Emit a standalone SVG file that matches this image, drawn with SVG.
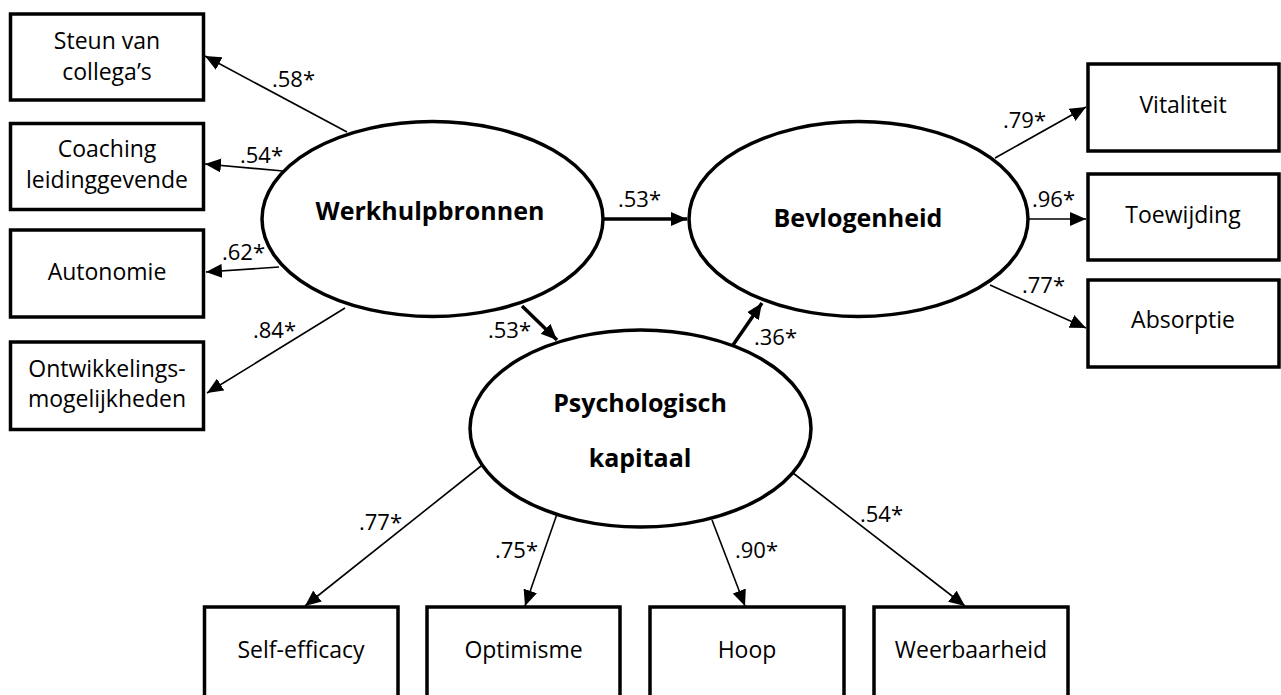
<svg xmlns="http://www.w3.org/2000/svg" width="1281" height="695" viewBox="0 0 1281 695">
<defs>
<style>
.box{fill:#fff;stroke:#000;stroke-width:3.5}
.ell{fill:#fff;stroke:#000;stroke-width:3.5}
.t{font-family:"Open Sans","Noto Sans","DejaVu Sans",sans-serif;font-size:23px;fill:#000;text-anchor:middle}
.b{font-family:"Open Sans","Noto Sans","DejaVu Sans",sans-serif;font-size:25px;font-weight:bold;fill:#000;text-anchor:middle}
.l{font-family:"Open Sans","Noto Sans","DejaVu Sans",sans-serif;font-size:22px;fill:#000}
.thin{stroke:#000;stroke-width:1.6;fill:none;marker-end:url(#ah)}
.thick{stroke:#000;stroke-width:3.5;fill:none;marker-end:url(#ahb)}
</style>
<marker id="ah" markerUnits="userSpaceOnUse" markerWidth="18" markerHeight="14" refX="16" refY="7" orient="auto"><path d="M0,0 L16,7 L0,14 Z" fill="#000"/></marker>
<marker id="ahb" markerUnits="userSpaceOnUse" markerWidth="18" markerHeight="16" refX="16" refY="8" orient="auto"><path d="M0,1 L16,8 L0,15 Z" fill="#000"/></marker>
</defs>
<rect width="1281" height="695" fill="#fff"/>

<g id="connectors">
<line class="thin" x1="347" y1="132" x2="205" y2="56"/>
<line class="thin" x1="283" y1="171" x2="205" y2="164"/>
<line class="thin" x1="279" y1="267" x2="206" y2="272"/>
<line class="thin" x1="345" y1="308" x2="207" y2="393"/>
<line class="thick" x1="603" y1="219" x2="687" y2="219"/>
<line class="thick" x1="522" y1="306" x2="557" y2="340"/>
<line class="thick" x1="733" y1="345" x2="762" y2="303"/>
<line class="thin" x1="995" y1="158" x2="1086" y2="107"/>
<line class="thin" x1="1028" y1="219" x2="1086" y2="219"/>
<line class="thin" x1="990" y1="285" x2="1086" y2="328"/>
<line class="thin" x1="481" y1="466" x2="305" y2="606"/>
<line class="thin" x1="557" y1="514" x2="525" y2="606"/>
<line class="thin" x1="712" y1="520" x2="745" y2="606"/>
<line class="thin" x1="793" y1="473" x2="965" y2="606"/>
<text class="l" x="272" y="87">.58*</text>
<text class="l" x="240" y="163">.54*</text>
<text class="l" x="222" y="260">.62*</text>
<text class="l" x="253" y="338">.84*</text>
<text class="l" x="618" y="207">.53*</text>
<text class="l" x="488" y="338">.53*</text>
<text class="l" x="754" y="345">.36*</text>
<text class="l" x="1003" y="128">.79*</text>
<text class="l" x="1032" y="207">.96*</text>
<text class="l" x="1022" y="293">.77*</text>
<text class="l" x="359" y="530">.77*</text>
<text class="l" x="495" y="558">.75*</text>
<text class="l" x="735" y="558">.90*</text>
<text class="l" x="860" y="522">.54*</text>
</g>

<g id="werkhulpbronnen">
<ellipse class="ell" cx="432.5" cy="219" rx="170.5" ry="97.5"/>
<text class="b" x="430" y="220">Werkhulpbronnen</text>
</g>
<g id="bevlogenheid">
<ellipse class="ell" cx="858.5" cy="219" rx="169.5" ry="97.5"/>
<text class="b" x="858" y="227">Bevlogenheid</text>
</g>
<g id="psychologisch-kapitaal">
<ellipse class="ell" cx="640.5" cy="428.5" rx="170.5" ry="98.5"/>
<text class="b" x="640" y="412">Psychologisch</text>
<text class="b" x="640" y="467">kapitaal</text>
</g>

<g id="steun">
<rect class="box" x="10.5" y="14" width="193" height="86"/>
<text class="t" x="107" y="49">Steun van</text>
<text class="t" x="107" y="80">collega’s</text>
</g>
<g id="coaching">
<rect class="box" x="10.5" y="123.5" width="193" height="86"/>
<text class="t" x="107" y="157">Coaching</text>
<text class="t" x="107" y="188">leidinggevende</text>
</g>
<g id="autonomie">
<rect class="box" x="10.5" y="230" width="193" height="87"/>
<text class="t" x="107" y="280">Autonomie</text>
</g>
<g id="ontwikkeling">
<rect class="box" x="10.5" y="342" width="193" height="87.5"/>
<text class="t" x="107" y="377">Ontwikkelings-</text>
<text class="t" x="107" y="407">mogelijkheden</text>
</g>

<g id="vitaliteit">
<rect class="box" x="1088" y="64" width="191" height="87"/>
<text class="t" x="1183" y="113">Vitaliteit</text>
</g>
<g id="toewijding">
<rect class="box" x="1088" y="174" width="191" height="86"/>
<text class="t" x="1183" y="223">Toewijding</text>
</g>
<g id="absorptie">
<rect class="box" x="1088" y="280" width="191" height="87"/>
<text class="t" x="1183" y="328">Absorptie</text>
</g>

<g id="self-efficacy">
<rect class="box" x="204.5" y="607" width="193.5" height="91"/>
<text class="t" x="301" y="658">Self-efficacy</text>
</g>
<g id="optimisme">
<rect class="box" x="427" y="607" width="193" height="91"/>
<text class="t" x="523.5" y="658">Optimisme</text>
</g>
<g id="hoop">
<rect class="box" x="650" y="607" width="194" height="91"/>
<text class="t" x="747" y="658">Hoop</text>
</g>
<g id="weerbaarheid">
<rect class="box" x="874" y="607" width="194" height="91"/>
<text class="t" x="971" y="658">Weerbaarheid</text>
</g>
</svg>
